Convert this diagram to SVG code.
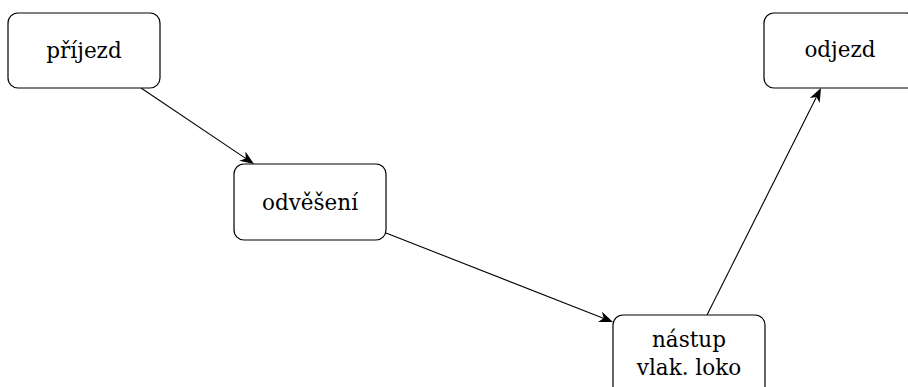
<svg xmlns="http://www.w3.org/2000/svg" width="908" height="387" viewBox="0 0 908 387">
<style>
.node rect{fill:#fff;stroke:#000;stroke-width:1.2}
.node text{font-family:"DejaVu Serif","Liberation Serif",serif;font-size:21.5px;text-anchor:middle;fill:#000}
.edge line{stroke:#000;stroke-width:1.1;fill:none}
.edge path{fill:#000;stroke:none}
</style>
<g id="connectors">
<g class="edge"><line x1="141" y1="88" x2="246" y2="158.6"/><path d="M254,164 L239.31,160.76 L245.7,158.42 L245.45,151.62 Z"/></g>
<g class="edge"><line x1="386" y1="233" x2="604" y2="318.5"/><path d="M613,322 L597.96,322.01 L603.69,318.35 L601.98,311.77 Z"/></g>
<g class="edge"><line x1="707" y1="315" x2="816.3" y2="97.3"/><path d="M821,88 L819.64,102.98 L816.51,96.94 L809.8,98.04 Z"/></g>
</g>
<g id="n1" class="node"><rect x="8" y="13" width="152" height="75" rx="10"/><text x="84" y="58">příjezd</text></g>
<g id="n2" class="node"><rect x="234" y="164" width="152" height="76" rx="10"/><text x="310" y="210">odvěšení</text></g>
<g id="n3" class="node"><rect x="613" y="315" width="152" height="90" rx="10"/><text x="689" y="347">nástup</text><text x="689" y="375">vlak. loko</text></g>
<g id="n4" class="node"><rect x="764" y="13" width="152" height="75" rx="10"/><text x="840" y="57">odjezd</text></g>
</svg>
